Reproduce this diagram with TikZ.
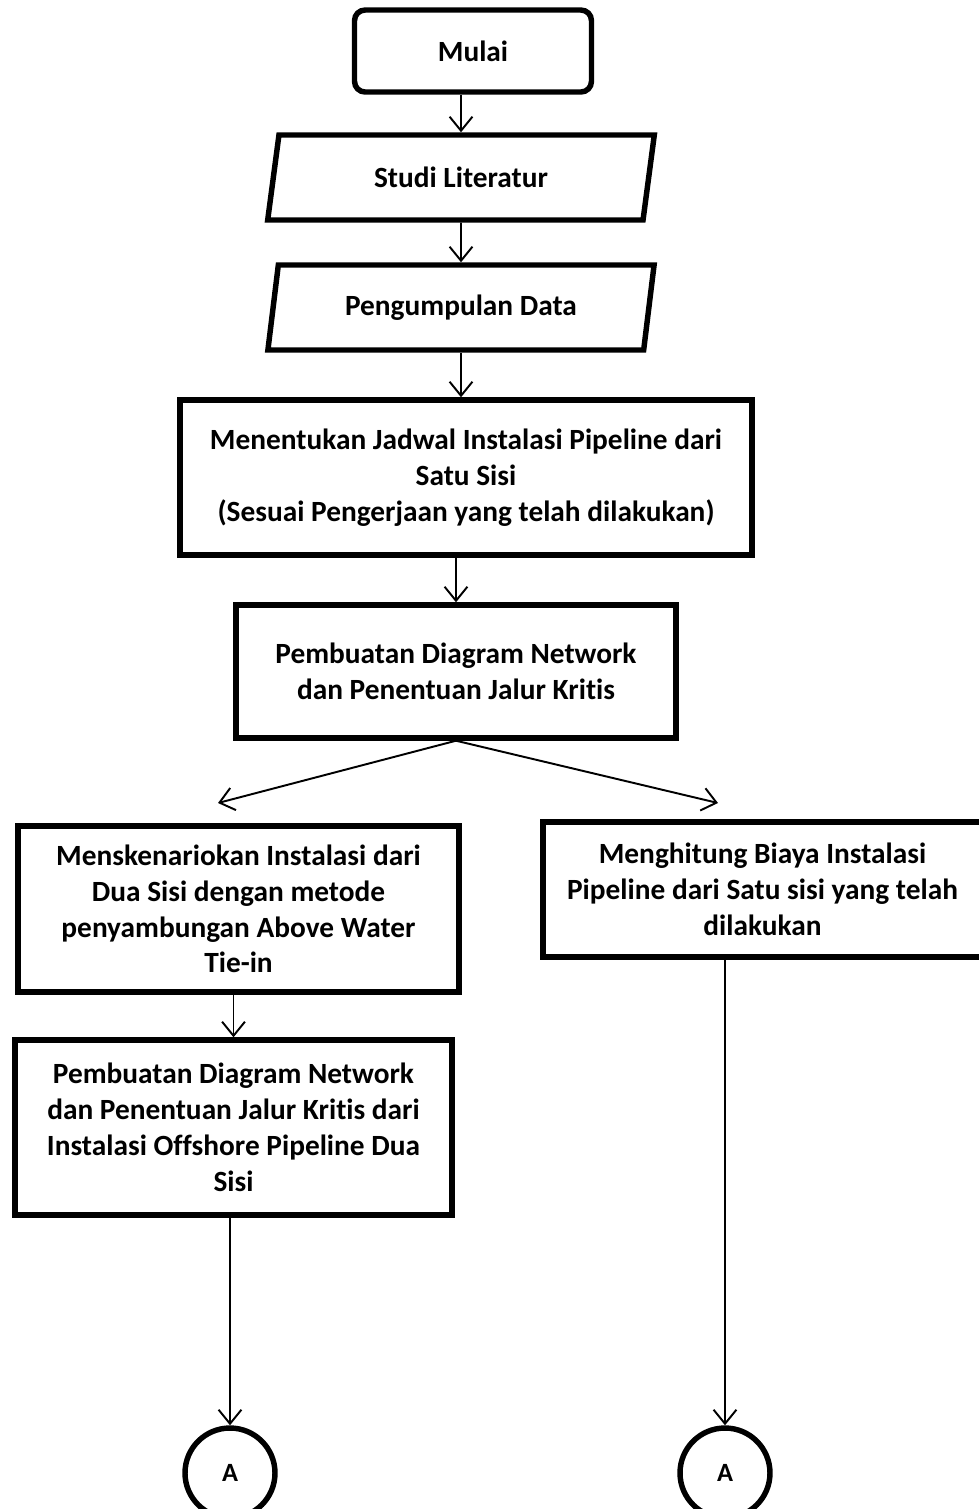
\documentclass[tikz,border=0pt]{standalone}
\usepackage{fontspec}
\setmainfont{Carlito}[Ligatures=NoCommon]
\usetikzlibrary{shapes.geometric,arrows.meta}

\begin{document}
\begin{tikzpicture}[x=0.02cm,y=-0.02cm,
    every node/.style={font=\fontsize{16.7}{20.4}\selectfont\bfseries,align=center},
    kotak/.style={draw,line width=3.1pt,inner sep=0pt},
    terminal/.style={kotak,rounded corners=6pt},
    io/.style={kotak,trapezium,trapezium left angle=75.5,trapezium right angle=104.5,
      trapezium stretches=true,minimum width=7.74cm,minimum height=1.7cm},
    konektor/.style={draw,circle,line width=3.1pt,minimum size=1.8cm,inner sep=0pt,
      font=\fontsize{15}{18}\selectfont\bfseries},
    panah/.style={line width=1.1pt,-{Straight Barb[length=8pt,width=13pt]}}]
  \useasboundingbox (0,0) rectangle (979,1509);

  \node[terminal,minimum width=4.74cm,minimum height=1.64cm] (mulai) at (473,51) {Mulai};
  \node[io] (studi) at (461,177.5) {Studi Literatur};
  \node[io] (data) at (461,307.5) {Pengumpulan Data};
  \node[kotak,minimum width=11.44cm,minimum height=3.1cm] (jadwal) at (466,477.5)
    {Menentukan Jadwal Instalasi Pipeline dari\\Satu Sisi\\(Sesuai Pengerjaan yang telah dilakukan)};
  \node[kotak,minimum width=8.8cm,minimum height=2.66cm] (network) at (456,671.5)
    {Pembuatan Diagram Network\\dan Penentuan Jalur Kritis};

  % cabang kiri
  \node[kotak,minimum width=8.82cm,minimum height=3.32cm] (skenario) at (238.5,909)
    {Menskenariokan Instalasi dari\\Dua Sisi dengan metode\\penyambungan Above Water\\Tie-in};
  \node[kotak,minimum width=8.74cm,minimum height=3.5cm] (network2) at (233.5,1127.5)
    {Pembuatan Diagram Network\\dan Penentuan Jalur Kritis dari\\Instalasi Offshore Pipeline Dua\\Sisi};
  \node[konektor] (a1) at (230,1473) {A};

  % cabang kanan
  \node[kotak,minimum width=8.78cm,minimum height=2.7cm] (biaya) at (762.5,889.5)
    {Menghitung Biaya Instalasi\\Pipeline dari Satu sisi yang telah\\dilakukan};
  \node[konektor] (a2) at (725,1473) {A};

  \coordinate (kiri) at (218,803);
  \coordinate (kanan) at (718,803);

  \draw[panah] (mulai.south -| studi.north) -- (studi.north);
  \draw[panah] (studi.south) -- (data.north);
  \draw[panah] (data.south) -- (data.south |- jadwal.north);
  \draw[panah] (jadwal.south -| network.north) -- (network.north);
  \draw[panah] (network.south) -- (kiri);
  \draw[panah] (network.south) -- (kanan);
  \draw[panah] (skenario.south -| network2.north) -- (network2.north);
  \draw[panah] (network2.south -| a1.north) -- (a1.north);
  \draw[panah] (biaya.south -| a2.north) -- (a2.north);
\end{tikzpicture}
\end{document}
